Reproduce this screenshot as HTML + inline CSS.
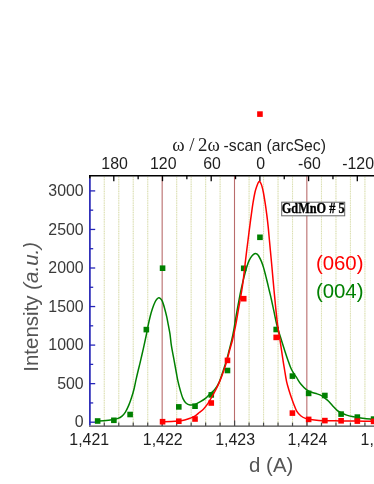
<!DOCTYPE html>
<html><head><meta charset="utf-8"><title>XRD scan</title>
<style>
html,body{margin:0;padding:0;background:#fff;}
body{width:374px;height:484px;overflow:hidden;font-family:"Liberation Sans",sans-serif;}
svg{display:block;}
text{font-family:"Liberation Sans",sans-serif;}
.ser{font-family:"Liberation Serif",serif;}
</style></head><body>
<svg width="374" height="484" viewBox="0 0 374 484">
<rect x="0" y="0" width="374" height="484" fill="#ffffff"/>
<defs><filter id="soft" x="-10" y="-10" width="394" height="504" filterUnits="userSpaceOnUse" color-interpolation-filters="sRGB"><feOffset dx="0" dy="0"/></filter></defs>
<g filter="url(#soft)">

<g stroke="#f2f4e4" stroke-width="1.15" fill="none">
<line x1="104.28" y1="176.7" x2="104.28" y2="425.1"/>
<line x1="118.76" y1="176.7" x2="118.76" y2="425.1"/>
<line x1="133.24" y1="176.7" x2="133.24" y2="425.1"/>
<line x1="147.72" y1="176.7" x2="147.72" y2="425.1"/>
<line x1="176.68" y1="176.7" x2="176.68" y2="425.1"/>
<line x1="191.16" y1="176.7" x2="191.16" y2="425.1"/>
<line x1="205.64" y1="176.7" x2="205.64" y2="425.1"/>
<line x1="220.12" y1="176.7" x2="220.12" y2="425.1"/>
<line x1="249.08" y1="176.7" x2="249.08" y2="425.1"/>
<line x1="263.56" y1="176.7" x2="263.56" y2="425.1"/>
<line x1="278.04" y1="176.7" x2="278.04" y2="425.1"/>
<line x1="292.52" y1="176.7" x2="292.52" y2="425.1"/>
<line x1="321.48" y1="176.7" x2="321.48" y2="425.1"/>
<line x1="335.96" y1="176.7" x2="335.96" y2="425.1"/>
<line x1="350.44" y1="176.7" x2="350.44" y2="425.1"/>
<line x1="364.92" y1="176.7" x2="364.92" y2="425.1"/>
</g>
<g stroke="#dcdfb2" stroke-width="1.05" stroke-dasharray="1.15,1.2" fill="none">
<line x1="104.28" y1="176.7" x2="104.28" y2="425.1"/>
<line x1="118.76" y1="176.7" x2="118.76" y2="425.1"/>
<line x1="133.24" y1="176.7" x2="133.24" y2="425.1"/>
<line x1="147.72" y1="176.7" x2="147.72" y2="425.1"/>
<line x1="176.68" y1="176.7" x2="176.68" y2="425.1"/>
<line x1="191.16" y1="176.7" x2="191.16" y2="425.1"/>
<line x1="205.64" y1="176.7" x2="205.64" y2="425.1"/>
<line x1="220.12" y1="176.7" x2="220.12" y2="425.1"/>
<line x1="249.08" y1="176.7" x2="249.08" y2="425.1"/>
<line x1="263.56" y1="176.7" x2="263.56" y2="425.1"/>
<line x1="278.04" y1="176.7" x2="278.04" y2="425.1"/>
<line x1="292.52" y1="176.7" x2="292.52" y2="425.1"/>
<line x1="321.48" y1="176.7" x2="321.48" y2="425.1"/>
<line x1="335.96" y1="176.7" x2="335.96" y2="425.1"/>
<line x1="350.44" y1="176.7" x2="350.44" y2="425.1"/>
<line x1="364.92" y1="176.7" x2="364.92" y2="425.1"/>
</g>
<line x1="162.16" y1="176" x2="162.16" y2="426" stroke="#b96c6c" stroke-width="1.1"/>
<line x1="234.5" y1="176" x2="234.5" y2="426" stroke="#b96c6c" stroke-width="1.1"/>
<line x1="306.84" y1="176" x2="306.84" y2="426" stroke="#b96c6c" stroke-width="1.1"/>
<line x1="89.0" y1="175.70" x2="382" y2="175.70" stroke="#000" stroke-width="1.4"/>
<line x1="89.0" y1="426.10" x2="382" y2="426.10" stroke="#4a4a4a" stroke-width="1.4"/>
<line x1="89.9" y1="178.30" x2="89.9" y2="425.40" stroke="#1a1ab2" stroke-width="1.6"/>
<line x1="89.90" y1="175.70" x2="89.90" y2="178.50" stroke="#000" stroke-width="1.7"/>
<g stroke="#2626b8" stroke-width="1.3">
<line x1="90.0" y1="422.20" x2="95.2" y2="422.20"/>
<line x1="90.0" y1="402.93" x2="93.2" y2="402.93"/>
<line x1="90.0" y1="383.65" x2="95.2" y2="383.65"/>
<line x1="90.0" y1="364.38" x2="93.2" y2="364.38"/>
<line x1="90.0" y1="345.10" x2="95.2" y2="345.10"/>
<line x1="90.0" y1="325.82" x2="93.2" y2="325.82"/>
<line x1="90.0" y1="306.55" x2="95.2" y2="306.55"/>
<line x1="90.0" y1="287.27" x2="93.2" y2="287.27"/>
<line x1="90.0" y1="268.00" x2="95.2" y2="268.00"/>
<line x1="90.0" y1="248.72" x2="93.2" y2="248.72"/>
<line x1="90.0" y1="229.45" x2="95.2" y2="229.45"/>
<line x1="90.0" y1="210.17" x2="93.2" y2="210.17"/>
<line x1="90.0" y1="190.90" x2="95.2" y2="190.90"/>
</g>
<g stroke="#484848" stroke-width="1.2">
<line x1="104.28" y1="426.1" x2="104.28" y2="422.6"/>
<line x1="118.76" y1="426.1" x2="118.76" y2="422.6"/>
<line x1="133.24" y1="426.1" x2="133.24" y2="422.6"/>
<line x1="147.72" y1="426.1" x2="147.72" y2="422.6"/>
<line x1="162.20" y1="426.1" x2="162.20" y2="420.6"/>
<line x1="176.68" y1="426.1" x2="176.68" y2="422.6"/>
<line x1="191.16" y1="426.1" x2="191.16" y2="422.6"/>
<line x1="205.64" y1="426.1" x2="205.64" y2="422.6"/>
<line x1="220.12" y1="426.1" x2="220.12" y2="422.6"/>
<line x1="234.60" y1="426.1" x2="234.60" y2="420.6"/>
<line x1="249.08" y1="426.1" x2="249.08" y2="422.6"/>
<line x1="263.56" y1="426.1" x2="263.56" y2="422.6"/>
<line x1="278.04" y1="426.1" x2="278.04" y2="422.6"/>
<line x1="292.52" y1="426.1" x2="292.52" y2="422.6"/>
<line x1="307.00" y1="426.1" x2="307.00" y2="420.6"/>
<line x1="321.48" y1="426.1" x2="321.48" y2="422.6"/>
<line x1="335.96" y1="426.1" x2="335.96" y2="422.6"/>
<line x1="350.44" y1="426.1" x2="350.44" y2="422.6"/>
<line x1="364.92" y1="426.1" x2="364.92" y2="422.6"/>
</g>
<g stroke="#000" stroke-width="1.3">
<line x1="113.80" y1="175.7" x2="113.80" y2="181.2"/>
<line x1="138.15" y1="175.7" x2="138.15" y2="179.2"/>
<line x1="162.50" y1="175.7" x2="162.50" y2="181.2"/>
<line x1="186.85" y1="175.7" x2="186.85" y2="179.2"/>
<line x1="211.20" y1="175.7" x2="211.20" y2="181.2"/>
<line x1="235.55" y1="175.7" x2="235.55" y2="179.2"/>
<line x1="259.90" y1="175.7" x2="259.90" y2="181.2"/>
<line x1="284.25" y1="175.7" x2="284.25" y2="179.2"/>
<line x1="308.60" y1="175.7" x2="308.60" y2="181.2"/>
<line x1="332.95" y1="175.7" x2="332.95" y2="179.2"/>
<line x1="357.30" y1="175.7" x2="357.30" y2="181.2"/>
</g>
<path d="M97.60,420.95 C98.62,420.91 101.88,420.82 103.70,420.70 C105.52,420.57 107.00,420.40 108.50,420.20 C110.00,420.00 111.12,419.80 112.70,419.50 C114.28,419.20 116.45,418.97 118.00,418.40 C119.55,417.83 120.77,417.15 122.00,416.10 C123.23,415.05 124.28,413.88 125.40,412.10 C126.52,410.32 127.70,407.73 128.70,405.40 C129.70,403.07 130.50,400.88 131.40,398.10 C132.30,395.32 133.32,391.82 134.10,388.70 C134.88,385.58 135.40,382.52 136.10,379.40 C136.80,376.28 137.65,372.72 138.30,370.00 C138.95,367.28 139.15,366.70 140.00,363.10 C140.85,359.50 142.35,353.08 143.40,348.40 C144.45,343.72 145.53,338.72 146.30,335.00 C147.07,331.28 147.37,329.15 148.00,326.10 C148.63,323.05 149.37,319.60 150.10,316.70 C150.83,313.80 151.57,311.15 152.40,308.70 C153.23,306.25 154.28,303.62 155.05,302.00 C155.82,300.38 156.38,299.70 157.00,299.00 C157.62,298.30 158.20,297.83 158.80,297.80 C159.40,297.77 160.00,298.20 160.60,298.80 C161.20,299.40 161.72,299.75 162.40,301.40 C163.08,303.05 163.98,306.15 164.70,308.70 C165.42,311.25 166.08,313.92 166.70,316.70 C167.32,319.48 167.85,322.50 168.40,325.40 C168.95,328.30 169.50,330.72 170.00,334.10 C170.50,337.48 170.72,341.32 171.40,345.70 C172.08,350.08 173.28,355.93 174.10,360.40 C174.92,364.87 175.65,369.00 176.30,372.50 C176.95,376.00 177.32,378.37 178.00,381.40 C178.68,384.43 179.57,387.83 180.40,390.70 C181.23,393.57 182.03,396.50 183.00,398.60 C183.97,400.70 185.03,402.23 186.20,403.30 C187.37,404.37 188.52,404.82 190.00,405.00 C191.48,405.18 193.37,404.95 195.10,404.40 C196.83,403.85 198.62,402.75 200.40,401.70 C202.18,400.65 204.12,399.48 205.80,398.10 C207.48,396.72 209.03,394.78 210.50,393.40 C211.97,392.02 213.18,391.60 214.60,389.80 C216.02,388.00 217.57,385.78 219.00,382.60 C220.43,379.42 221.93,374.47 223.20,370.70 C224.47,366.93 225.60,363.45 226.60,360.00 C227.60,356.55 228.34,353.33 229.20,350.00 C230.06,346.67 230.95,343.53 231.75,340.00 C232.55,336.47 233.29,332.68 234.00,328.80 C234.71,324.92 235.27,320.92 236.00,316.70 C236.73,312.48 237.63,307.62 238.40,303.50 C239.17,299.38 239.90,295.45 240.60,292.00 C241.30,288.55 241.95,285.58 242.60,282.80 C243.25,280.02 243.87,277.72 244.50,275.30 C245.13,272.88 245.70,270.62 246.40,268.30 C247.10,265.98 247.87,263.33 248.70,261.40 C249.53,259.47 250.60,257.87 251.40,256.70 C252.20,255.53 252.83,254.95 253.50,254.40 C254.17,253.85 254.78,253.43 255.40,253.40 C256.02,253.37 256.65,253.77 257.20,254.20 C257.75,254.63 258.00,254.80 258.70,256.00 C259.40,257.20 260.57,259.38 261.40,261.40 C262.23,263.42 262.97,265.65 263.70,268.10 C264.43,270.55 265.12,273.40 265.80,276.10 C266.48,278.80 267.18,281.73 267.80,284.30 C268.42,286.87 268.90,288.97 269.50,291.50 C270.10,294.03 270.65,296.13 271.40,299.50 C272.15,302.87 273.15,307.70 274.00,311.70 C274.85,315.70 275.77,320.37 276.50,323.50 C277.23,326.63 277.55,327.63 278.40,330.50 C279.25,333.37 280.50,337.22 281.60,340.70 C282.70,344.18 283.90,348.02 285.00,351.40 C286.10,354.78 287.27,358.32 288.20,361.00 C289.13,363.68 289.80,365.63 290.60,367.50 C291.40,369.37 291.97,370.47 293.00,372.20 C294.03,373.93 295.47,375.88 296.80,377.90 C298.13,379.92 299.40,382.35 301.00,384.30 C302.60,386.25 304.62,388.27 306.40,389.60 C308.18,390.93 309.92,391.58 311.70,392.30 C313.48,393.02 315.47,393.35 317.10,393.90 C318.73,394.45 320.22,394.90 321.50,395.60 C322.78,396.30 323.62,397.17 324.80,398.10 C325.98,399.03 327.27,399.88 328.60,401.20 C329.93,402.52 331.38,404.48 332.80,406.00 C334.22,407.52 335.67,409.13 337.10,410.30 C338.53,411.47 339.80,412.20 341.40,413.00 C343.00,413.80 344.92,414.52 346.70,415.10 C348.48,415.68 350.32,416.12 352.10,416.50 C353.88,416.88 355.25,417.05 357.40,417.40 C359.55,417.75 362.07,418.23 365.00,418.60 C367.93,418.97 373.33,419.43 375.00,419.60" fill="none" stroke="#008000" stroke-width="1.5" stroke-linejoin="round"/>
<g fill="#008000">
<rect x="94.85" y="418.20" width="5.6" height="5.6"/>
<rect x="111.08" y="417.50" width="5.6" height="5.6"/>
<rect x="127.31" y="411.70" width="5.6" height="5.6"/>
<rect x="143.54" y="326.80" width="5.6" height="5.6"/>
<rect x="159.77" y="265.40" width="5.6" height="5.6"/>
<rect x="176.00" y="404.10" width="5.6" height="5.6"/>
<rect x="192.23" y="403.40" width="5.6" height="5.6"/>
<rect x="208.46" y="392.10" width="5.6" height="5.6"/>
<rect x="224.69" y="367.70" width="5.6" height="5.6"/>
<rect x="240.92" y="265.50" width="5.6" height="5.6"/>
<rect x="257.15" y="234.50" width="5.6" height="5.6"/>
<rect x="273.38" y="326.70" width="5.6" height="5.6"/>
<rect x="289.61" y="373.30" width="5.6" height="5.6"/>
<rect x="305.84" y="390.60" width="5.6" height="5.6"/>
<rect x="322.07" y="392.70" width="5.6" height="5.6"/>
<rect x="338.30" y="411.30" width="5.6" height="5.6"/>
<rect x="354.53" y="414.30" width="5.6" height="5.6"/>
<rect x="370.76" y="416.30" width="5.6" height="5.6"/>
</g>
<path d="M162.50,421.80 C163.98,421.77 168.70,421.73 171.40,421.60 C174.10,421.47 176.48,421.25 178.70,421.00 C180.92,420.75 182.80,420.55 184.70,420.10 C186.60,419.65 188.42,418.97 190.10,418.30 C191.78,417.63 193.25,417.07 194.80,416.10 C196.35,415.13 197.93,413.70 199.40,412.50 C200.87,411.30 202.17,410.42 203.60,408.90 C205.03,407.38 206.68,405.30 208.00,403.40 C209.32,401.50 210.22,399.73 211.50,397.50 C212.78,395.27 214.33,392.68 215.70,390.00 C217.07,387.32 218.37,384.62 219.70,381.40 C221.03,378.18 222.47,374.27 223.70,370.70 C224.93,367.13 226.10,363.45 227.10,360.00 C228.10,356.55 228.80,353.33 229.70,350.00 C230.60,346.67 231.53,343.98 232.50,340.00 C233.47,336.02 234.60,330.65 235.50,326.10 C236.40,321.55 237.15,316.93 237.90,312.70 C238.65,308.47 239.34,304.48 240.00,300.70 C240.66,296.92 241.28,293.65 241.85,290.00 C242.42,286.35 242.86,283.12 243.40,278.80 C243.94,274.48 244.55,268.78 245.10,264.10 C245.65,259.42 246.21,254.72 246.70,250.70 C247.19,246.68 247.55,243.98 248.05,240.00 C248.55,236.02 249.16,231.00 249.70,226.80 C250.24,222.60 250.74,218.82 251.30,214.80 C251.86,210.78 252.43,206.50 253.05,202.70 C253.68,198.90 254.38,194.88 255.05,192.00 C255.73,189.12 256.56,186.97 257.10,185.40 C257.64,183.83 257.92,183.23 258.30,182.60 C258.68,181.97 259.03,181.60 259.40,181.60 C259.77,181.60 260.12,181.97 260.50,182.60 C260.88,183.23 261.23,183.83 261.70,185.40 C262.17,186.97 262.73,189.12 263.30,192.00 C263.87,194.88 264.52,198.90 265.10,202.70 C265.68,206.50 266.28,210.78 266.80,214.80 C267.32,218.82 267.77,222.60 268.20,226.80 C268.63,231.00 269.03,236.02 269.40,240.00 C269.77,243.98 269.98,246.25 270.40,250.70 C270.82,255.15 271.45,261.80 271.90,266.70 C272.35,271.60 272.75,276.22 273.10,280.10 C273.45,283.98 273.72,286.95 274.00,290.00 C274.28,293.05 274.45,294.78 274.80,298.40 C275.15,302.02 275.63,307.25 276.10,311.70 C276.57,316.15 277.17,321.72 277.60,325.10 C278.03,328.48 278.28,329.40 278.70,332.00 C279.12,334.60 279.60,337.47 280.10,340.70 C280.60,343.93 281.17,347.83 281.70,351.40 C282.23,354.97 282.82,359.00 283.30,362.10 C283.78,365.20 284.05,366.73 284.60,370.00 C285.15,373.27 285.88,378.37 286.60,381.70 C287.32,385.03 288.17,387.53 288.90,390.00 C289.63,392.47 290.22,394.22 291.00,396.50 C291.78,398.78 292.65,401.27 293.60,403.70 C294.55,406.13 295.52,409.10 296.70,411.10 C297.88,413.10 299.25,414.48 300.70,415.70 C302.15,416.92 303.73,417.77 305.40,418.40 C307.07,419.03 308.47,419.17 310.70,419.50 C312.93,419.83 316.12,420.18 318.80,420.40 C321.48,420.62 323.10,420.72 326.80,420.80 C330.50,420.88 335.97,420.85 341.00,420.90 C346.03,420.95 351.33,421.03 357.00,421.10 C362.67,421.17 372.00,421.27 375.00,421.30" fill="none" stroke="#ff0000" stroke-width="1.5" stroke-linejoin="round"/>
<g fill="#ff0000">
<rect x="257.15" y="111.30" width="5.6" height="5.6"/>
<rect x="159.77" y="418.90" width="5.6" height="5.6"/>
<rect x="176.00" y="418.40" width="5.6" height="5.6"/>
<rect x="192.23" y="416.20" width="5.6" height="5.6"/>
<rect x="208.46" y="400.20" width="5.6" height="5.6"/>
<rect x="224.69" y="357.60" width="5.6" height="5.6"/>
<rect x="240.92" y="295.90" width="5.6" height="5.6"/>
<rect x="273.38" y="334.60" width="5.6" height="5.6"/>
<rect x="289.61" y="410.30" width="5.6" height="5.6"/>
<rect x="305.84" y="416.60" width="5.6" height="5.6"/>
<rect x="322.07" y="417.80" width="5.6" height="5.6"/>
<rect x="338.30" y="418.00" width="5.6" height="5.6"/>
<rect x="354.53" y="418.30" width="5.6" height="5.6"/>
<rect x="370.76" y="418.60" width="5.6" height="5.6"/>
</g>
<g font-size="15.9" fill="#3a3a3a" text-anchor="end">
<text x="83.7" y="427.40">0</text>
<text x="83.7" y="388.85">500</text>
<text x="83.7" y="350.30">1000</text>
<text x="83.7" y="311.75">1500</text>
<text x="83.7" y="273.20">2000</text>
<text x="83.7" y="234.65">2500</text>
<text x="83.7" y="196.10">3000</text>
</g>
<g font-size="15.9" fill="#1e1e1e" text-anchor="middle">
<text x="89.20" y="445.0">1,421</text>
<text x="162.70" y="445.0">1,422</text>
<text x="235.10" y="445.0">1,423</text>
<text x="307.50" y="445.0">1,424</text>
<text x="360.6" y="445.0" text-anchor="start">1,425</text>
<text x="114.60" y="169.1">180</text>
<text x="163.30" y="169.1">120</text>
<text x="212.00" y="169.1">60</text>
<text x="260.70" y="169.1">0</text>
<text x="309.40" y="169.1">-60</text>
<text x="358.10" y="169.1">-120</text>
</g>
<text x="271.2" y="471.5" font-size="20.4" fill="#555" text-anchor="middle">d (A)</text>
<text transform="translate(37.8,306.8) rotate(-90)" font-size="20.5" fill="#555" text-anchor="middle">Intensity <tspan font-style="italic">(a.u.)</tspan></text>
<text x="172.2" y="151" class="ser" font-size="18.8" fill="#222">ω / <tspan dx="-1.2">2ω</tspan></text><text x="223.6" y="151" font-size="15.75" fill="#222">-scan (arcSec)</text>
<text x="339.7" y="270.3" font-size="20.4" fill="#ff0000" text-anchor="middle">(060)</text>
<text x="339.7" y="298.1" font-size="20.4" fill="#008000" text-anchor="middle">(004)</text>
<rect x="281.7" y="202.2" width="63" height="13.6" fill="#fff" stroke="#666" stroke-width="1"/>
<text transform="translate(313.2,213.4) scale(1,1.14)" class="ser" font-size="12.3" font-weight="bold" fill="#000" stroke="#000" stroke-width="0.3" text-anchor="middle">GdMnO # 5</text>
</g>
</svg>
</body></html>
